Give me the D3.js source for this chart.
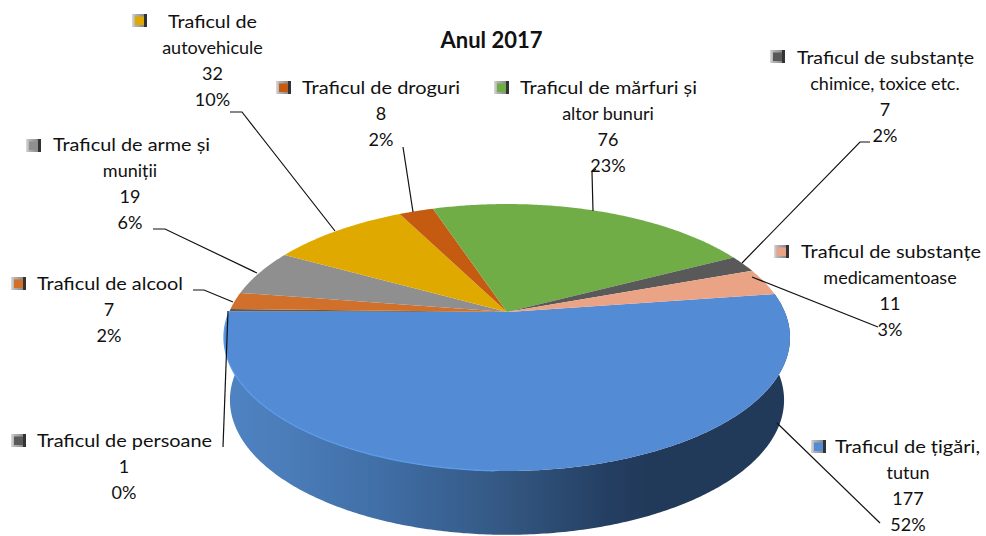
<!DOCTYPE html>
<html><head><meta charset="utf-8">
<script src="https://cdn.jsdelivr.net/npm/d3@7/dist/d3.min.js"></script>
<style>html,body{margin:0;padding:0;background:#fff}svg{display:block}text{font-family:Lato,"Open Sans",sans-serif;fill:#111}</style>
</head><body><div id="c"></div>
<script>
const title = "Anul 2017";
const categories = [
  ["Traficul de țigări,","tutun"],
  ["Traficul de persoane"],
  ["Traficul de alcool"],
  ["Traficul de arme și","muniții"],
  ["Traficul de","autovehicule"],
  ["Traficul de droguri"],
  ["Traficul de mărfuri și","altor bunuri"],
  ["Traficul de substanțe","chimice, toxice etc."],
  ["Traficul de substanțe","medicamentoase"]
];
const values = [177,1,7,19,32,8,76,7,11];
const percentLabels = ["52%","0%","2%","6%","10%","2%","23%","2%","3%"];
const colors = ["#538bd5","#5a5a5a","#d0702a","#8f8f8f","#e0a900","#c55a11","#70ad47","#595959","#eba386"];

const W=986,H=536;
// layout of the labels (key box, first-line start, centre of the following lines, first baseline)
const labelLayout = [
  {kx:811,ky:440,tx:835,tw:145,cx:908,by:453},
  {kx:11,ky:434,tx:37,tw:175,cx:124,by:447},
  {kx:11,ky:277,tx:37,tw:146,cx:109,by:290},
  {kx:26,ky:139,tx:53,tw:157,cx:130,by:151},
  {kx:132,ky:14,tx:168,tw:89,cx:212.5,by:28},
  {kx:276,ky:81,tx:302,tw:158,cx:381,by:94},
  {kx:494,ky:81,tx:520,tw:177,cx:608,by:94},
  {kx:770,ky:50,tx:797,tw:177,cx:885,by:64},
  {kx:774,ky:245,tx:801,tw:180,cx:890,by:258}
];
const leaders = [
  [[777,423],[880,523]],
  [[223,447],[228,311]],
  [[193,290],[204,290],[233,302]],
  [[153,229],[165,229],[257,273]],
  [[230,112],[242,112],[335,231]],
  [[403,147],[413,212]],
  [[593,211],[592,172],[596,169]],
  [[742,263],[860,142],[870,142]],
  [[752,277],[878,327]]
];

const svg=d3.select("#c").append("svg").attr("width",W).attr("height",H);
const defs=svg.append("defs");

// perspective disc: apex at (cx,cy), homography of the unit circle
const cx=507, cy=312, k=0.191, A=128.6, C=277.8;
const top3d = a => { const u=Math.sin(a), v=-Math.cos(a), w=1-k*v; return [cx+C*u/w, cy+A*v/w]; };
const bottom3d = a => { const p=top3d(a); return [cx+(p[0]-cx)*0.979, 400+(p[1]-337.5)*1.01]; };
const arcPts = (f,a0,a1) => { const n=Math.max(2,Math.ceil(Math.abs(a1-a0)/0.01)); return d3.range(n+1).map(i=>f(a0+(a1-a0)*i/n)); };
const line=d3.line();

const start = 81.76*Math.PI/180;
const arcs = d3.pie().sort(null).startAngle(start).endAngle(start+2*Math.PI)(values);

// wall
const wg=defs.append("linearGradient").attr("id","wall").attr("x1",0).attr("x2",1).attr("y1",0).attr("y2",0);
[[0,"#4f83c2"],[0.12,"#4a7cb8"],[0.3,"#3f6ca3"],[0.5,"#335781"],[0.68,"#243e62"],[0.75,"#223a5a"],[1,"#223a5a"]]
  .forEach(s=>wg.append("stop").attr("offset",s[0]).attr("stop-color",s[1]));
const blue=arcs[0];
svg.append("path")
  .attr("d",line(arcPts(top3d,blue.startAngle,blue.endAngle).concat(arcPts(bottom3d,blue.endAngle,blue.startAngle)))+"Z")
  .attr("fill","url(#wall)");

// top face
svg.append("g").selectAll("path").data(arcs).join("path")
  .attr("d",d=>line([[cx,cy]].concat(arcPts(top3d,d.startAngle,d.endAngle)))+"Z")
  .attr("fill",(d,i)=>colors[i]);

// light rim on the front-left of the top face
svg.append("path")
  .attr("d",line(arcPts(top3d,blue.startAngle+1.75,blue.endAngle)))
  .attr("fill","none").attr("stroke","#5c9bea").attr("stroke-width",1.3);

// leader lines
svg.append("g").selectAll("path").data(leaders).join("path")
  .attr("d",d=>line(d)).attr("fill","none").attr("stroke","#111").attr("stroke-width",1.2);

// bevelled keys
const kg=defs.append("linearGradient").attr("id","bevel").attr("x1",0).attr("x2",1).attr("y1",0).attr("y2",0);
[[0,"#dcdcdc"],[0.2,"#b5b5b5"],[0.8,"#8a8a8a"],[0.81,"#333"],[1,"#333"]].forEach(s=>kg.append("stop").attr("offset",s[0]).attr("stop-color",s[1]));

const labels=svg.append("g").selectAll("g").data(categories).join("g");
labels.each(function(name,i){
  const g=d3.select(this), L=labelLayout[i];
  g.append("rect").attr("x",L.kx).attr("y",L.ky).attr("width",15).attr("height",13).attr("fill","url(#bevel)");
  g.append("rect").attr("x",L.kx+3).attr("y",L.ky+2.5).attr("width",9).attr("height",8.5).attr("fill",colors[i]);
  g.append("text").attr("x",L.tx).attr("y",L.by).attr("font-size",18).attr("textLength",L.tw).attr("lengthAdjust","spacingAndGlyphs").text(name[0]);
  const rest=name.slice(1).concat([String(values[i]),percentLabels[i]]);
  rest.forEach((t,j)=>g.append("text").attr("x",L.cx).attr("y",L.by+(j+1)*26).attr("text-anchor","middle").attr("font-size",18).text(t));
});

svg.append("text").attr("x",491.5).attr("y",48).attr("text-anchor","middle").attr("font-size",22).attr("font-weight",700).text(title);
</script></body></html>
